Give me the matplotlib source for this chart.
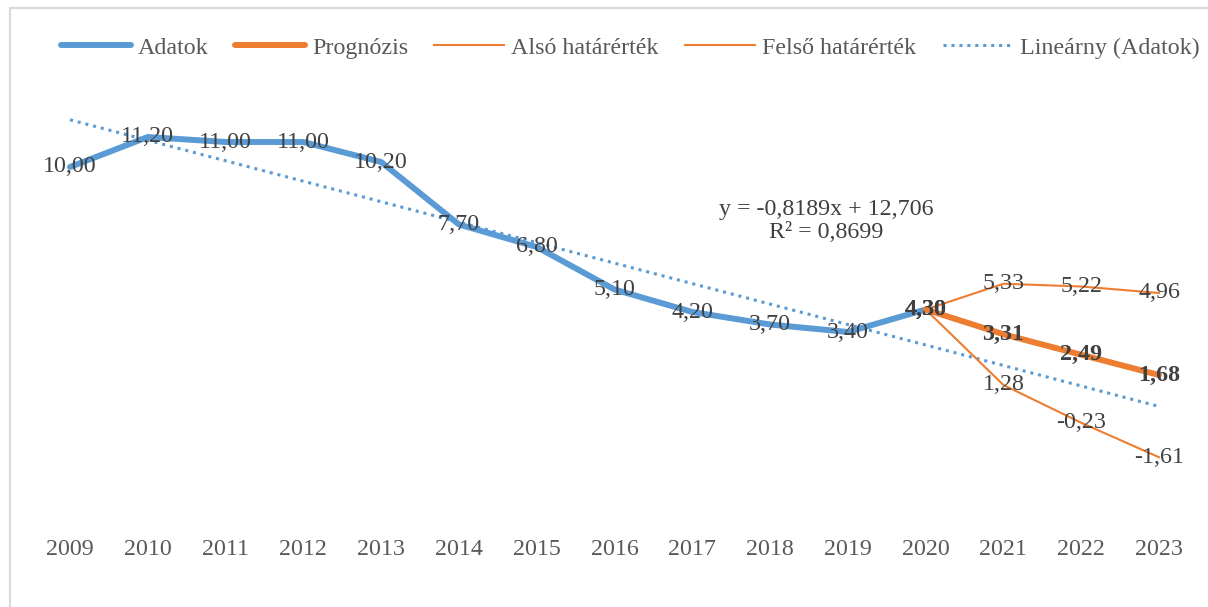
import numpy as np
import matplotlib.pyplot as plt
from matplotlib.lines import Line2D

plt.rcParams['font.family'] = ['Liberation Serif', 'DejaVu Serif']

years = [2009, 2010, 2011, 2012, 2013, 2014, 2015, 2016, 2017, 2018, 2019, 2020, 2021, 2022, 2023]
adatok = [10.00, 11.20, 11.00, 11.00, 10.20, 7.70, 6.80, 5.10, 4.20, 3.70, 3.40, 4.30]
prog_years = [2020, 2021, 2022, 2023]
prognozis = [4.30, 3.31, 2.49, 1.68]
also = [4.30, 1.28, -0.23, -1.61]
felso = [4.30, 5.33, 5.22, 4.96]

blue = '#5B9BD5'
orange = '#ED7D31'
lab_col = '#404040'
tick_col = '#595959'
fs = 17.3

W, H = 1208, 607
fig = plt.figure(figsize=(W / 100, H / 100), dpi=100)

# chart border (light gray, only left/top visible in the crop)
fig.add_artist(Line2D([10 / W, 10 / W], [0, 1 - 8 / H], transform=fig.transFigure,
                      color='#D9D9D9', lw=1.5))
fig.add_artist(Line2D([10 / W, 1], [1 - 8 / H, 1 - 8 / H], transform=fig.transFigure,
                      color='#D9D9D9', lw=1.5))

ax = fig.add_axes([31.1 / W, (H - 529.5) / H, 1166.8 / W, 437.5 / H])
ax.set_xlim(2008.5, 2023.5)
ax.set_ylim(-4.5, 13)

x_data = np.array(years[:len(adatok)])
ax.plot(x_data, adatok, color=blue, lw=4.3, solid_capstyle='round',
        solid_joinstyle='round', label='Adatok', zorder=3)
ax.plot(prog_years, prognozis, color=orange, lw=4.3, solid_capstyle='round',
        label='Prognózis', zorder=3)
ax.plot(prog_years, also, color=orange, lw=1.5, label='Alsó határérték', zorder=3)
ax.plot(prog_years, felso, color=orange, lw=1.5, label='Felső határérték', zorder=3)

# linear trendline on the data (x = 1..n as in Excel)
xi = np.arange(1, len(adatok) + 1)
slope, icpt = np.polyfit(xi, adatok, 1)
xt = np.arange(1, len(years) + 1)
ax.plot(years, slope * xt + icpt, color=blue, lw=2.2, ls=(0, (1, 1.6)),
        label='Lineárny (Adatok)', zorder=2)
r2 = np.corrcoef(xi, adatok)[0, 1] ** 2

def fmt(v, d=2):
    return f'{v:.{d}f}'.replace('.', ',')

eq = f'y = {fmt(slope, 4)}x + {fmt(icpt, 3)}\nR² = {fmt(r2, 4)}'
ax.text(2018.72, 7.85, eq, ha='center', va='center', fontsize=fs, color=lab_col,
        linespacing=1.1, zorder=4)

for x, v in zip(x_data, adatok):
    ax.text(x, v, fmt(v), ha='center', va='center', fontsize=fs, color=lab_col, zorder=5)
for x, v in zip(prog_years, also):
    ax.text(x, v, fmt(v), ha='center', va='center', fontsize=fs, color=lab_col, zorder=5)
for x, v in zip(prog_years, felso):
    ax.text(x, v, fmt(v), ha='center', va='center', fontsize=fs, color=lab_col, zorder=5)
for x, v in zip(prog_years, prognozis):
    ax.text(x, v, fmt(v), ha='center', va='center', fontsize=fs, color=lab_col,
            fontweight='bold', zorder=5)

ax.set_xticks(years)
ax.set_xticklabels([str(y) for y in years])
ax.tick_params(axis='x', length=0, pad=7, labelsize=fs, labelcolor=tick_col)
ax.set_yticks([])
for s in ax.spines.values():
    s.set_visible(False)

leg = fig.legend(loc='center', bbox_to_anchor=(630 / W, 1 - 48 / H), ncol=5,
                 frameon=False, fontsize=fs, handlelength=2.9, handletextpad=0.3,
                 columnspacing=1.1, borderpad=0)
for t in leg.get_texts():
    t.set_color(tick_col)

fig.savefig('out.png', dpi=100)
